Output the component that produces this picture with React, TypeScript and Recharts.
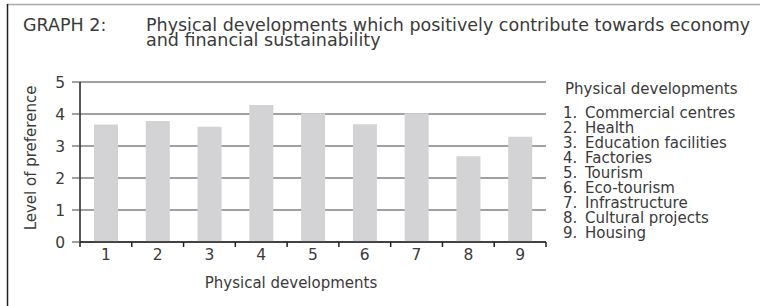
import { BarChart, Bar, XAxis, YAxis, CartesianGrid } from 'recharts';

const CATEGORIES = ['1', '2', '3', '4', '5', '6', '7', '8', '9'];
const PREFERENCE = [3.67, 3.78, 3.6, 4.28, 4.02, 3.68, 4.02, 2.68, 3.29];
const DEVELOPMENT_NAMES = [
  'Commercial centres',
  'Health',
  'Education facilities',
  'Factories',
  'Tourism',
  'Eco-tourism',
  'Infrastructure',
  'Cultural projects',
  'Housing',
];
const Y_TICKS = [0, 1, 2, 3, 4, 5];

const FONT = '"DejaVu Sans", sans-serif';
const INK = '#3a3a3a';

const data = CATEGORIES.map((c, i) => ({ cat: c, value: PREFERENCE[i] }));

// ticks sit between the categories, labels in the middle
function CategoryTick(props: any) {
  const { x, y, payload, index, width, visibleTicksCount } = props;
  const half = width / (visibleTicksCount || CATEGORIES.length) / 2;
  return (
    <g>
      <line x1={x - half} x2={x - half} y1={y} y2={y + 5} stroke="#222" strokeWidth={1.5} />
      {index === CATEGORIES.length - 1 && (
        <line x1={x + half} x2={x + half} y1={y} y2={y + 5} stroke="#222" strokeWidth={1.5} />
      )}
      <text x={x} y={y + 18} textAnchor="middle" fill={INK} fontSize={15.5} fontFamily={FONT}>
        {payload.value}
      </text>
    </g>
  );
}

export default function App() {
  return (
    <div style={{ position: 'absolute', left: 0, top: 0, width: 760, height: 306, background: '#fff' }}>
      <BarChart
        width={760}
        height={306}
        data={data}
        margin={{ top: 82, right: 214, bottom: 34, left: 20 }}
      >
        <CartesianGrid vertical={false} stroke="#444" strokeWidth={1} />
        <XAxis
          dataKey="cat"
          height={30}
          axisLine={{ stroke: '#222', strokeWidth: 1.5 }}
          tickLine={false}
          tickSize={0}
          tickMargin={0}
          tick={<CategoryTick />}
          interval={0}
        />
        <YAxis
          domain={[0, 5]}
          ticks={Y_TICKS}
          width={60}
          tickSize={8}
          tickMargin={7}
          axisLine={{ stroke: '#222', strokeWidth: 1.5 }}
          tickLine={{ stroke: '#444' }}
          tick={{ fill: INK, fontSize: 15.5, fontFamily: FONT }}
        />
        <YAxis
          yAxisId="frame"
          orientation="right"
          domain={[0, 5]}
          width={0}
          tick={false}
          tickLine={false}
          axisLine={{ stroke: '#222', strokeWidth: 1.5 }}
        />
        <Bar dataKey="value" fill="#d3d3d5" barSize={24} isAnimationActive={false} />
      </BarChart>
      <svg
        width={760}
        height={306}
        style={{ position: 'absolute', left: 0, top: 0, pointerEvents: 'none' }}
        fontFamily={FONT}
        fontSize={15}
        fill={INK}
      >
        <line x1={7} x2={760} y1={4.5} y2={4.5} stroke="#aaa" strokeWidth={1.5} />
        <line x1={7.5} x2={7.5} y1={4} y2={306} stroke="#222" strokeWidth={1.5} />
        <g fontSize={17.5}>
          <text x={23} y={31}>GRAPH 2:</text>
          <text x={146} y={31}>Physical developments which positively contribute towards economy</text>
          <text x={146} y={45.5}>and financial sustainability</text>
        </g>
        <text x={36} y={158} textAnchor="middle" transform="rotate(-90 36 158)">
          Level of preference
        </text>
        <text x={291} y={288} textAnchor="middle">Physical developments</text>
        <text x={565} y={94}>Physical developments</text>
        {DEVELOPMENT_NAMES.map((name, i) => (
          <g key={name}>
            <text x={563} y={118 + i * 15}>{`${i + 1}.`}</text>
            <text x={585} y={118 + i * 15}>{name}</text>
          </g>
        ))}
      </svg>
    </div>
  );
}
